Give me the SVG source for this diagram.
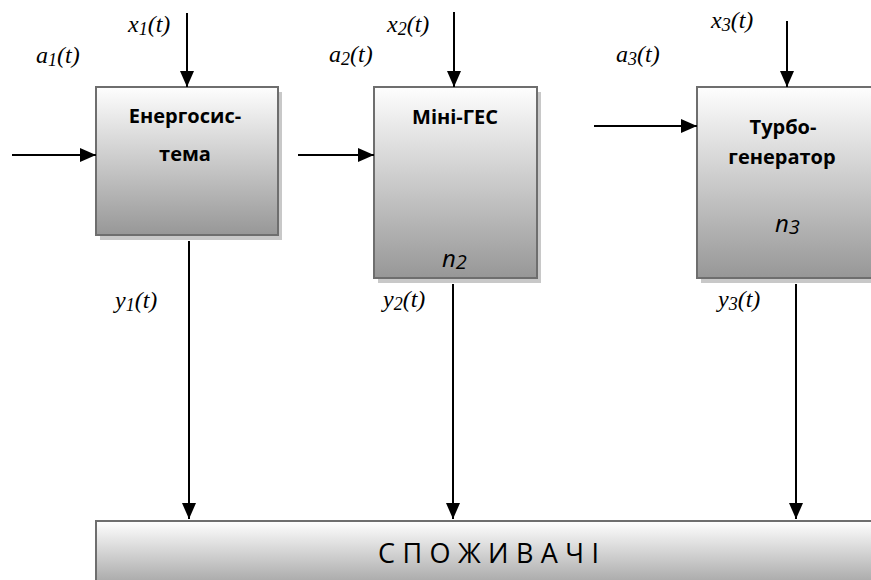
<svg xmlns="http://www.w3.org/2000/svg" width="871" height="580" viewBox="0 0 871 580">
<defs>
<linearGradient id="g" x1="0" y1="0" x2="0" y2="1">
<stop offset="0" stop-color="#fefefe"/>
<stop offset="1" stop-color="#979797"/>
</linearGradient>
<linearGradient id="gb" x1="0" y1="0" x2="0" y2="1">
<stop offset="0" stop-color="#ffffff"/>
<stop offset="1" stop-color="#9e9e9e"/>
</linearGradient>
<marker id="ah" markerUnits="userSpaceOnUse" markerWidth="16" markerHeight="14" refX="16" refY="7" orient="auto">
<path d="M0,0 L16,7 L0,14 Z" fill="#000"/>
</marker>
<style>
.box{fill:url(#g);stroke:#6e6e6e;stroke-width:2}
.sh{fill:#c8c8c8}
.t{font-family:'Open Sans','Liberation Sans',sans-serif;font-weight:bold;font-size:20px;fill:#000;text-anchor:middle}
.n{font-family:'Open Sans','Liberation Sans',sans-serif;font-style:italic;font-size:24px;fill:#000}
.v{font-family:'Liberation Serif','Times New Roman',serif;font-style:italic;font-size:24px;fill:#000}
.s{font-size:18px}
.c{stroke:#000;stroke-width:2;fill:none;marker-end:url(#ah)}
</style>
</defs>
<rect width="871" height="580" fill="#fff"/>
<g id="node-energosystema">
<rect class="sh" x="100" y="92" width="182" height="148"/>
<rect class="box" x="96" y="87" width="182" height="148"/>
<text class="t" x="185" y="123">Енергосис-</text>
<text class="t" x="185" y="161">тема</text>
</g>
<g id="node-mini-ges">
<rect class="sh" x="378" y="92" width="163" height="191"/>
<rect class="box" x="374" y="87" width="163" height="191"/>
<text class="t" x="455" y="124">Міні-ГЕС</text>
<text class="n" x="442" y="267">n<tspan font-size="20" dy="2">2</tspan></text>
</g>
<g id="node-turbogenerator">
<rect class="sh" x="701" y="92" width="190" height="191"/>
<rect class="box" x="697" y="87" width="190" height="191"/>
<text class="t" x="783" y="134">Турбо-</text>
<text class="t" x="782" y="164">генератор</text>
<text class="n" x="775" y="232">n<tspan font-size="20" dy="2">3</tspan></text>
</g>
<g id="node-spozhyvachi">
<rect x="96" y="521" width="800" height="70" fill="url(#gb)" stroke="#6e6e6e" stroke-width="2"/>
<text x="378" y="563" textLength="221" lengthAdjust="spacing" font-family="'Open Sans','Liberation Sans',sans-serif" font-size="27" fill="#000">СПОЖИВАЧІ</text>
</g>
<g id="connectors">
<line class="c" x1="187" y1="13" x2="187" y2="87"/>
<line class="c" x1="454" y1="12" x2="454" y2="87"/>
<line class="c" x1="787" y1="21" x2="787" y2="87"/>
<line class="c" x1="12" y1="155" x2="96" y2="155"/>
<line class="c" x1="298" y1="155" x2="374" y2="155"/>
<line class="c" x1="594" y1="126" x2="697" y2="126"/>
<line class="c" x1="189" y1="241" x2="189" y2="519"/>
<line class="c" x1="453" y1="284" x2="453" y2="519"/>
<line class="c" x1="796" y1="284" x2="796" y2="519"/>
</g>
<g id="labels" font-family="Liberation Serif, Times New Roman, serif" font-style="italic" font-size="24" fill="#000">
<text x="128" y="32">x<tspan font-size="18" dy="3">1</tspan><tspan dy="-3">(t)</tspan></text>
<text x="36" y="63">a<tspan font-size="18" dy="3">1</tspan><tspan dy="-3">(t)</tspan></text>
<text x="387" y="32">x<tspan font-size="18" dy="3">2</tspan><tspan dy="-3">(t)</tspan></text>
<text x="329" y="62">a<tspan font-size="18" dy="3">2</tspan><tspan dy="-3">(t)</tspan></text>
<text x="711" y="28">x<tspan font-size="18" dy="3">3</tspan><tspan dy="-3">(t)</tspan></text>
<text x="616" y="62">a<tspan font-size="18" dy="3">3</tspan><tspan dy="-3">(t)</tspan></text>
<text x="115" y="308">y<tspan font-size="18" dy="3">1</tspan><tspan dy="-3">(t)</tspan></text>
<text x="383" y="307">y<tspan font-size="18" dy="3">2</tspan><tspan dy="-3">(t)</tspan></text>
<text x="718" y="307">y<tspan font-size="18" dy="3">3</tspan><tspan dy="-3">(t)</tspan></text>
</g>
</svg>
